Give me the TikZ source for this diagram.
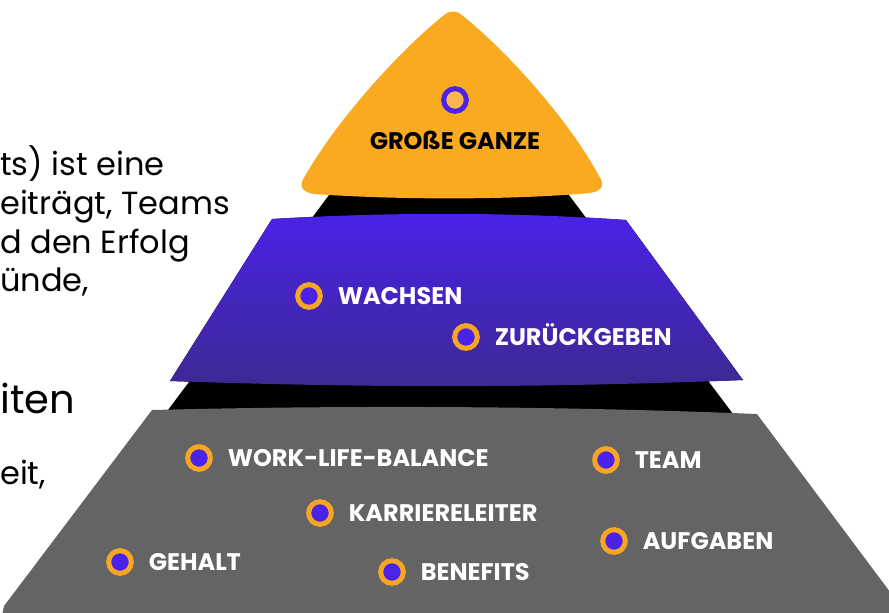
\documentclass[tikz,border=0pt]{standalone}
\usepackage{fontspec}
\setmainfont{Poppins}
\usetikzlibrary{positioning}

\definecolor{tierorange}{HTML}{F9AA20}
\definecolor{tierpurple}{HTML}{4A22EA}
\definecolor{tierpurpledark}{HTML}{3E2891}
\definecolor{tiergray}{HTML}{646464}
\definecolor{dotorange}{HTML}{F6A623}
\definecolor{dotpurple}{HTML}{4B22E8}
\definecolor{dotlight}{HTML}{F9B54E}

\begin{document}
\begin{tikzpicture}[x=0.75pt, y=-0.75pt, node distance=11pt,
		dot/.style={circle, draw=dotorange, line width=3.75pt, fill=dotpurple, minimum size=17pt, inner sep=0pt},
		topdot/.style={dot, draw=dotpurple, fill=dotlight},
		tag/.style={font=\bfseries\fontsize{18}{18}\selectfont, text=white, inner sep=0pt, text height=12.5pt, text depth=0pt},
		body/.style={font=\fontsize{24}{24}\selectfont, anchor=base west, inner sep=0pt}]
		\useasboundingbox (0,0) rectangle (889,612);
		\clip (0,0) rectangle (889,612);

		% Text on the left
		\node [body] (line1) at (0,175) {ts) ist eine};
		\node [body] (line2) at (0,214) {eiträgt, Teams};
		\node [body] (line3) at (0,253) {d den Erfolg};
		\node [body] (line4) at (0,291) {ünde,};
		\node [body, font=\fontsize{30}{30}\selectfont] (heading) at (0,413) {iten};
		\node [body] (line5) at (0,484) {eit,};

		% Pyramid
		\fill [black] (449,35) -- (745,430) -- (153,430) -- cycle;
		\fill [tiergray] (152,410) .. controls (350,405) and (560,406) .. (757,414)
			-- (905,612) -- (905,625) -- (0,625) -- (4,606)
			-- cycle;
		\fill [top color=tierpurple, bottom color=tierpurpledark]
			(272,219) .. controls (390,212) and (510,212) .. (626,220)
			-- (743,380) .. controls (540,388) and (370,388) .. (170,381)
			-- cycle;
		\fill [tierorange]
			(314,194) .. controls (400,200) and (512,200) .. (590,193)
			.. controls (603,191) and (605,184) .. (599,176)
			.. controls (566,115) and (501,46) .. (463,16)
			.. controls (457,10) and (449,10) .. (443,16)
			.. controls (405,46) and (340,115) .. (305,176)
			.. controls (298,186) and (302,192) .. (314,194) -- cycle;

		% Top tier
		\node [topdot] (ganzeDot) at (455,100) {};
		\node [tag, text=black] (ganze) at (455,141) {GROßE GANZE};

		% Middle tier
		\node [dot] (wachsenDot) at (309,296) {};
		\node [tag, right=of wachsenDot] (wachsen) {WACHSEN};
		\node [dot] (zurueckDot) at (466,337) {};
		\node [tag, right=of zurueckDot] (zurueck) {ZURÜCKGEBEN};

		% Bottom tier
		\node [dot] (balanceDot) at (199,458) {};
		\node [tag, right=of balanceDot] (balance) {WORK-LIFE-BALANCE};
		\node [dot] (teamDot) at (606,460) {};
		\node [tag, right=of teamDot] (team) {TEAM};
		\node [dot] (karriereDot) at (320,513) {};
		\node [tag, right=of karriereDot] (karriere) {KARRIERELEITER};
		\node [dot] (aufgabenDot) at (614,541) {};
		\node [tag, right=of aufgabenDot] (aufgaben) {AUFGABEN};
		\node [dot] (gehaltDot) at (120,562) {};
		\node [tag, right=of gehaltDot] (gehalt) {GEHALT};
		\node [dot] (benefitsDot) at (392,572) {};
		\node [tag, right=of benefitsDot] (benefits) {BENEFITS};
	\end{tikzpicture}
\end{document}
